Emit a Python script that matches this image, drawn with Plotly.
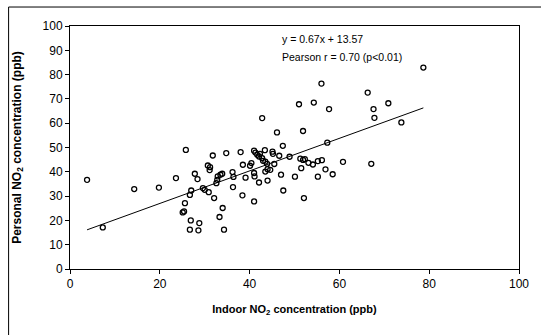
import plotly.graph_objects as go
import numpy as np

indoor_no2 = [3.8, 7.3, 14.3, 19.8, 23.6, 25.8, 27.8, 28.4, 25.6, 25.1, 25.4, 27.0, 26.7, 29.6, 30.0,
              30.9, 26.9, 28.8, 26.7, 28.6, 31.8, 30.7, 31.2, 31.1, 34.8, 38.0, 32.9, 33.5, 33.9, 32.8,
              32.6, 36.2, 36.4, 39.1, 32.1, 36.3, 38.4, 34.0, 33.3, 34.3, 38.5, 41.0, 41.3, 41.7, 42.3,
              42.1, 42.8, 43.0, 43.5, 43.9, 43.4, 45.1, 45.2, 46.6, 40.4, 40.1, 45.5, 44.0, 44.6, 43.5,
              41.0, 41.1, 42.1, 44.0, 47.0, 47.5, 41.0, 47.4, 46.1, 42.8, 51.9, 48.9, 51.3, 51.9, 52.3,
              53.1, 54.1, 55.2, 56.1, 56.9, 58.5, 51.5, 50.1, 55.2, 52.1, 57.3, 60.8, 67.1, 51.0, 54.3,
              56.0, 57.7, 66.3, 70.9, 67.6, 67.8, 73.8, 78.7]
personal_no2 = [36.7, 17.1, 32.9, 33.5, 37.4, 49.0, 39.2, 37.0, 27.1, 23.3, 23.7, 32.3, 30.5, 33.3, 32.6,
                31.6, 20.0, 18.9, 16.2, 15.9, 46.7, 42.6, 41.9, 40.7, 47.7, 48.1, 38.1, 38.8, 39.2, 36.7,
                35.3, 39.9, 37.9, 37.6, 29.2, 33.7, 30.3, 25.1, 21.4, 16.2, 42.9, 48.7, 47.9, 47.0, 47.4,
                46.3, 45.6, 44.5, 44.2, 43.3, 48.9, 48.3, 47.4, 46.6, 43.6, 42.5, 43.2, 41.1, 40.8, 40.1,
                39.5, 38.1, 35.6, 36.4, 38.8, 32.3, 27.8, 50.7, 56.2, 62.1, 56.8, 46.2, 45.4, 44.9, 45.2,
                43.7, 43.0, 44.4, 44.8, 41.0, 39.0, 41.5, 38.0, 38.0, 29.2, 52.0, 44.1, 43.3, 67.8, 68.5,
                76.3, 65.8, 72.6, 68.2, 65.8, 62.2, 60.3, 82.9]

slope = 0.67
intercept = 13.57
x_ticks = [0, 20, 40, 60, 80, 100]
y_ticks = [0, 10, 20, 30, 40, 50, 60, 70, 80, 90, 100]

fit_x = np.array([min(indoor_no2), max(indoor_no2)])
fit_y = slope * fit_x + intercept

fig = go.Figure()
fig.add_trace(go.Scatter(x=fit_x, y=fit_y, mode="lines",
                         line=dict(color="black", width=1), hoverinfo="skip"))
fig.add_trace(go.Scatter(x=indoor_no2, y=personal_no2, mode="markers",
                         marker=dict(symbol="circle-open", size=5, color="black",
                                     line=dict(color="black", width=1.3))))

font_main = "Liberation Sans, Arial, sans-serif"
fig.update_layout(
    width=541, height=335,
    margin=dict(l=69.5, r=14.5, t=26, b=65.7),
    paper_bgcolor="white", plot_bgcolor="white",
    showlegend=False,
    font=dict(family=font_main, color="black", size=12),
    xaxis=dict(range=[0, 100], tickvals=x_ticks, ticks="outside", ticklen=4,
               tickcolor="black", showline=True, linecolor="black", linewidth=1,
               mirror=True, showgrid=False, zeroline=False,
               tickfont=dict(size=12, family=font_main),
               title=dict(text="<b>Indoor NO<sub>2</sub> concentration (ppb)</b>",
                          font=dict(size=11, family=font_main), standoff=14)),
    yaxis=dict(range=[0, 100], tickvals=y_ticks, ticks="outside", ticklen=4,
               tickcolor="black", showline=True, linecolor="black", linewidth=1,
               mirror=True, showgrid=False, zeroline=False,
               tickfont=dict(size=12, family=font_main),
               title=dict(text="<b>Personal NO<sub>2</sub> concentration (ppb)</b>",
                          font=dict(size=12, family=font_main), standoff=18)),
    annotations=[
        dict(xref="paper", yref="paper", x=(283 - 69.5) / 457, y=(269.3 - 39) / 243.3,
             xanchor="left", yanchor="middle", showarrow=False,
             text="y = 0.67x + 13.57", font=dict(size=10.5, family=font_main)),
        dict(xref="paper", yref="paper", x=(283 - 69.5) / 457, y=(269.3 - 57) / 243.3,
             xanchor="left", yanchor="middle", showarrow=False,
             text="Pearson r = 0.70 (p<0.01)", font=dict(size=10.5, family=font_main)),
    ],
    shapes=[
        dict(type="rect", xref="paper", yref="paper",
             x0=(7 - 69.5) / 457, x1=1.2, y0=-0.4, y1=(269.3 - 7) / 243.3,
             line=dict(color="black", width=1), layer="below"),
    ],
)

fig.write_html("out.html")
